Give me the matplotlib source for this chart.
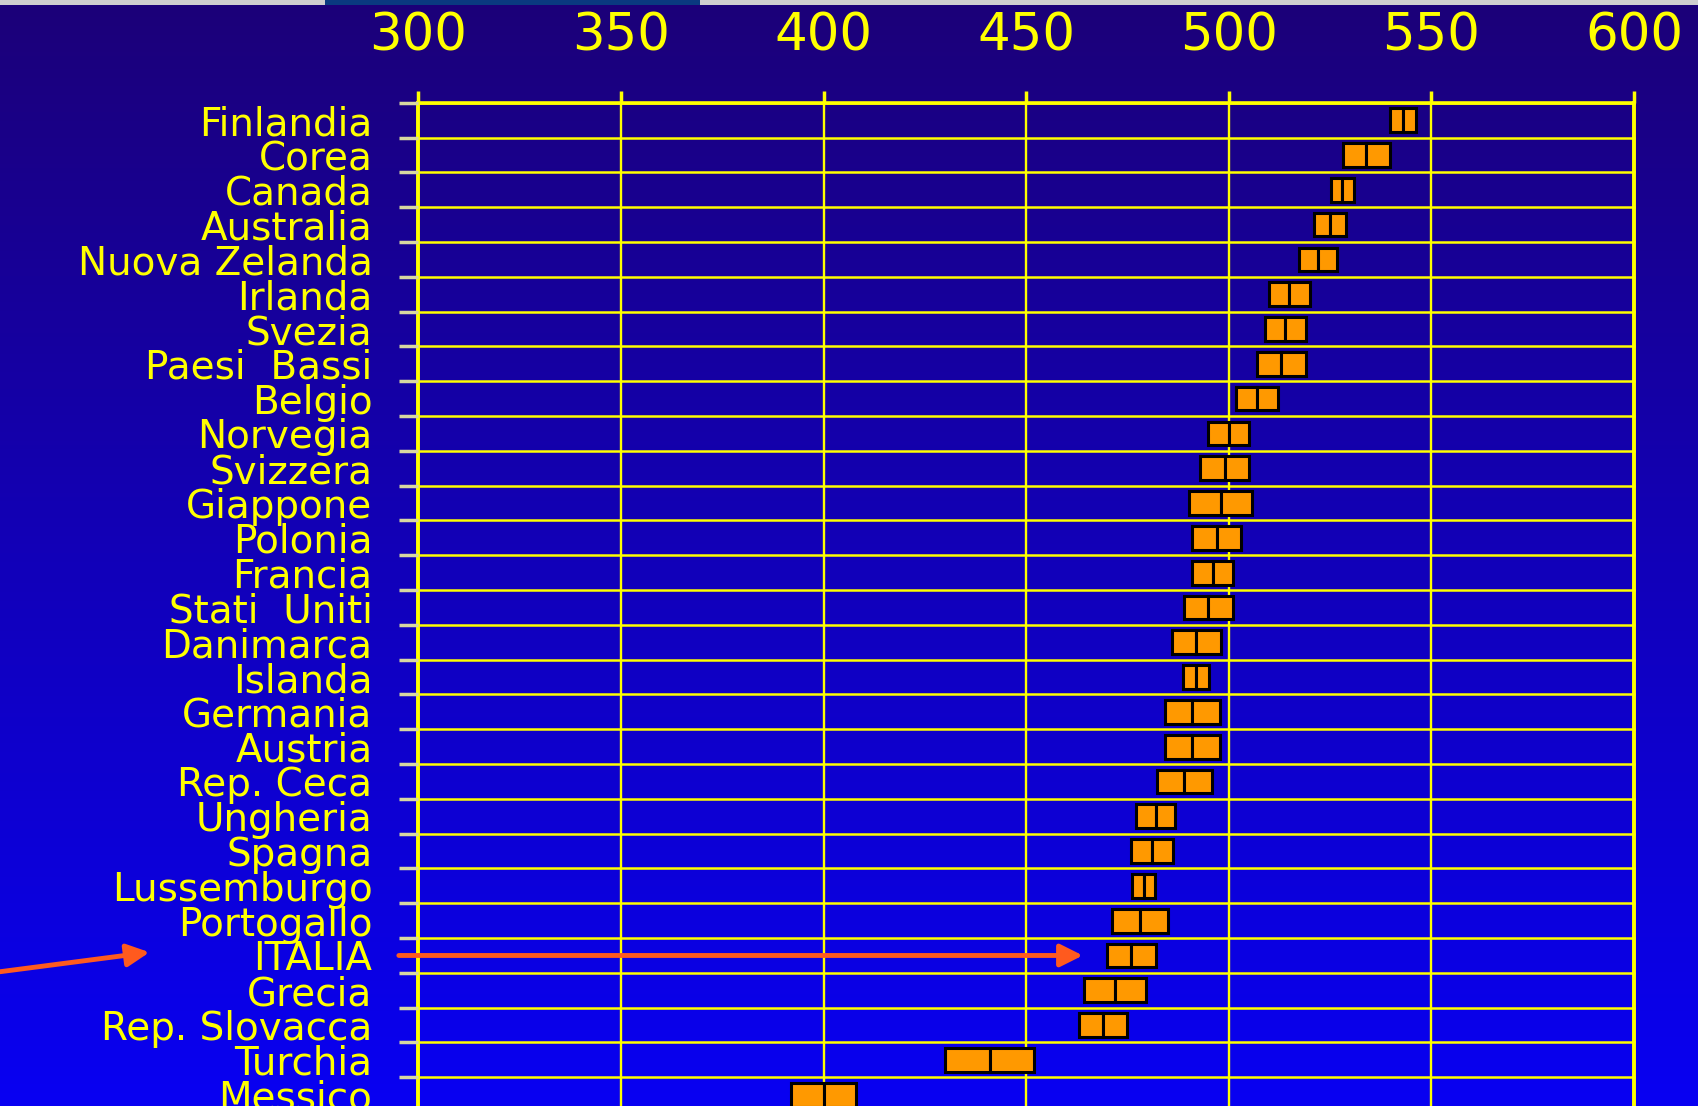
import numpy as np
import matplotlib
matplotlib.use("Agg")
import matplotlib.pyplot as plt
from matplotlib.patches import Rectangle, FancyArrowPatch
from matplotlib.colors import LinearSegmentedColormap

# PISA-style scores: mean and half width of the confidence band
countries = ["Finlandia", "Corea", "Canada", "Australia", "Nuova Zelanda",
             "Irlanda", "Svezia", "Paesi  Bassi", "Belgio", "Norvegia",
             "Svizzera", "Giappone", "Polonia", "Francia", "Stati  Uniti",
             "Danimarca", "Islanda", "Germania", "Austria", "Rep. Ceca",
             "Ungheria", "Spagna", "Lussemburgo", "Portogallo", "ITALIA",
             "Grecia", "Rep. Slovacca", "Turchia", "Messico"]
means = [543, 534, 528, 525, 522, 515, 514, 513, 507, 500, 499, 498, 497,
         496, 495, 492, 492, 491, 491, 489, 482, 481, 479, 478, 476, 472,
         469, 441, 400]
half_width = [3.1, 5.8, 2.8, 3.9, 4.7, 5.1, 5.1, 6.0, 5.2, 5.0, 6.0, 7.7,
              6.0, 5.0, 6.0, 6.0, 3.2, 6.8, 6.8, 6.8, 4.8, 5.2, 2.8, 6.9,
              6.0, 7.7, 6.0, 11.0, 8.1]
xticks = [300, 350, 400, 450, 500, 550, 600]
highlight = "ITALIA"

yellow = "#ffff00"
box_orange = "#ff9900"
arrow_red = "#ff5a1e"

fig = plt.figure(figsize=(16.99, 11.06), dpi=100)

# background gradient, dark indigo at the top to bright blue at the bottom
bg = fig.add_axes([0, 0, 1, 1])
grad = np.linspace(0, 1, 256).reshape(-1, 1)
cmap_bg = LinearSegmentedColormap.from_list("bg", ["#1c0078", "#1200b8", "#0800f2"])
bg.imshow(grad, aspect="auto", cmap=cmap_bg, extent=[0, 1, 0, 1], origin="upper")
# thin grey strip at the very top with a blue piece
bg.add_patch(Rectangle((0, 0.9955), 1, 0.0045, color="#cfcfcf", lw=0))
bg.add_patch(Rectangle((325 / 1699, 0.9955), 375 / 1699, 0.0045, color="#0a3a80", lw=0))
bg.set_xlim(0, 1)
bg.set_ylim(0, 1)
bg.axis("off")

n = len(countries)
ax = fig.add_axes([0.2462, -0.0055, 0.7155, 0.9125])
ax.patch.set_alpha(0)
ax.set_xlim(300, 600)
ax.set_ylim(n, 0)

rows = np.arange(n) + 0.5
box_h = 0.68
for i, (m, hw) in enumerate(zip(means, half_width)):
    y0 = rows[i] - box_h / 2
    ax.add_patch(Rectangle((m - hw, y0), hw, box_h, facecolor=box_orange,
                           edgecolor="black", lw=2.2, zorder=3))
    ax.add_patch(Rectangle((m, y0), hw, box_h, facecolor=box_orange,
                           edgecolor="black", lw=2.2, zorder=3))

# grid lines
for x in xticks:
    ax.axvline(x, color=yellow, lw=1.7, zorder=1, clip_on=False)
ax.axvline(300, color=yellow, lw=2.8, zorder=1, clip_on=False)
ax.axvline(600, color=yellow, lw=2.8, zorder=1, clip_on=False)
for b in range(n):
    ax.axhline(b, color=yellow, lw=1.8, zorder=1, clip_on=False)
ax.axhline(0, color=yellow, lw=2.6, zorder=1, clip_on=False)

for s in ax.spines.values():
    s.set_visible(False)

# top x axis
ax.xaxis.tick_top()
ax.set_xticks(xticks)
ax.set_xticklabels([str(t) for t in xticks])
ax.tick_params(axis="x", colors=yellow, length=9, width=2.5, direction="out",
               pad=21, labelsize=37)

# y axis: stubs at row boundaries, labels at row centres
ax.set_yticks(np.arange(n))
ax.set_yticklabels([])
ax.tick_params(axis="y", which="major", colors="#d8d8a0", length=14, width=2.5)
ax.set_yticks(rows, minor=True)
ax.set_yticklabels(countries, minor=True)
ax.tick_params(axis="y", which="minor", length=0, pad=33, labelsize=28,
               labelcolor=yellow)
for lab in ax.get_yticklabels(minor=True):
    lab.set_y(lab.get_position()[1])
    lab.set_verticalalignment("center_baseline")

# arrows pointing at Italy
iy = countries.index(highlight)
ax.add_patch(FancyArrowPatch((295.2, rows[iy]), (464, rows[iy]),
                             arrowstyle="-|>", mutation_scale=34, color=arrow_red,
                             lw=3.5, zorder=4, clip_on=False, shrinkA=0, shrinkB=0))
fig.patches.append(FancyArrowPatch((0.0, 0.1214), (0.088, 0.139), transform=fig.transFigure,
                                   arrowstyle="-|>", mutation_scale=34, color=arrow_red,
                                   lw=3.5, shrinkA=0, shrinkB=0))

fig.savefig("out.png", dpi=100)
